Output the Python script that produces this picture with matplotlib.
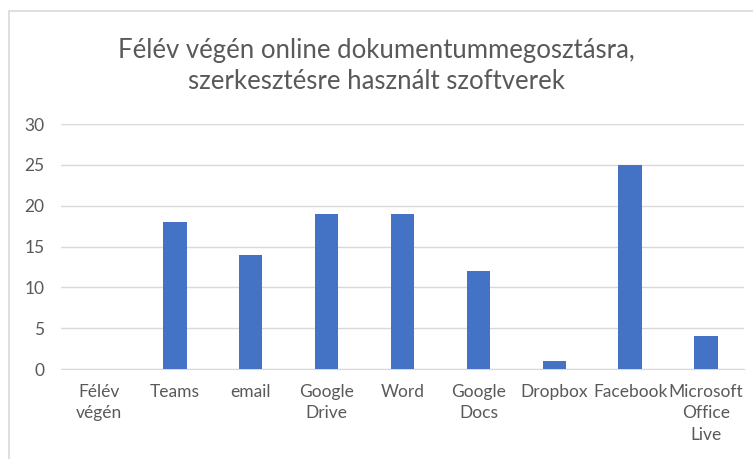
import matplotlib.pyplot as plt
from matplotlib.patches import Rectangle

categories = ["Félév\nvégén", "Teams", "email", "Google\nDrive", "Word",
              "Google\nDocs", "Dropbox", "Facebook", "Microsoft\nOffice\nLive"]
values = [0, 18, 14, 19, 19, 12, 1, 25, 4]

plt.rcParams['font.family'] = ['Lato', 'DejaVu Sans']

fig = plt.figure(figsize=(7.53, 4.59), dpi=100)
ax = fig.add_axes([61/753, 1 - 369/459, (744 - 61)/753, (369 - 124)/459])

# chart border (only top and left are visible in the crop)
fig.patches.append(Rectangle((9/753, -0.1), 1.2, 1 - 11/459 + 0.1,
                             transform=fig.transFigure, fill=False,
                             edgecolor='#D9D9D9', linewidth=1.2))

xs = range(len(categories))
ax.bar(xs, values, width=0.31, color='#4472C4', zorder=3)

ax.set_xlim(-0.5, len(categories) - 0.5)
ax.set_ylim(0, 30)
ax.set_yticks(range(0, 31, 5))
ax.set_xticks(list(xs))
ax.set_xticklabels(categories, linespacing=1.4)
ax.grid(axis='y', color='#D9D9D9', linewidth=1)
ax.set_axisbelow(True)
for s in ax.spines.values():
    s.set_visible(False)
ax.spines['bottom'].set_visible(True)
ax.spines['bottom'].set_color('#D9D9D9')
ax.tick_params(length=0, labelsize=12.5, labelcolor='#595959')
ax.tick_params(axis='x', pad=11)
ax.tick_params(axis='y', pad=12)

fig.text(0.5, 1 - 66/459, "Félév végén online dokumentummegosztásra,\nszerkesztésre használt szoftverek",
         ha='center', va='center', fontsize=18.5,
         color='#595959', linespacing=1.3)

fig.savefig('out.png', dpi=100)
